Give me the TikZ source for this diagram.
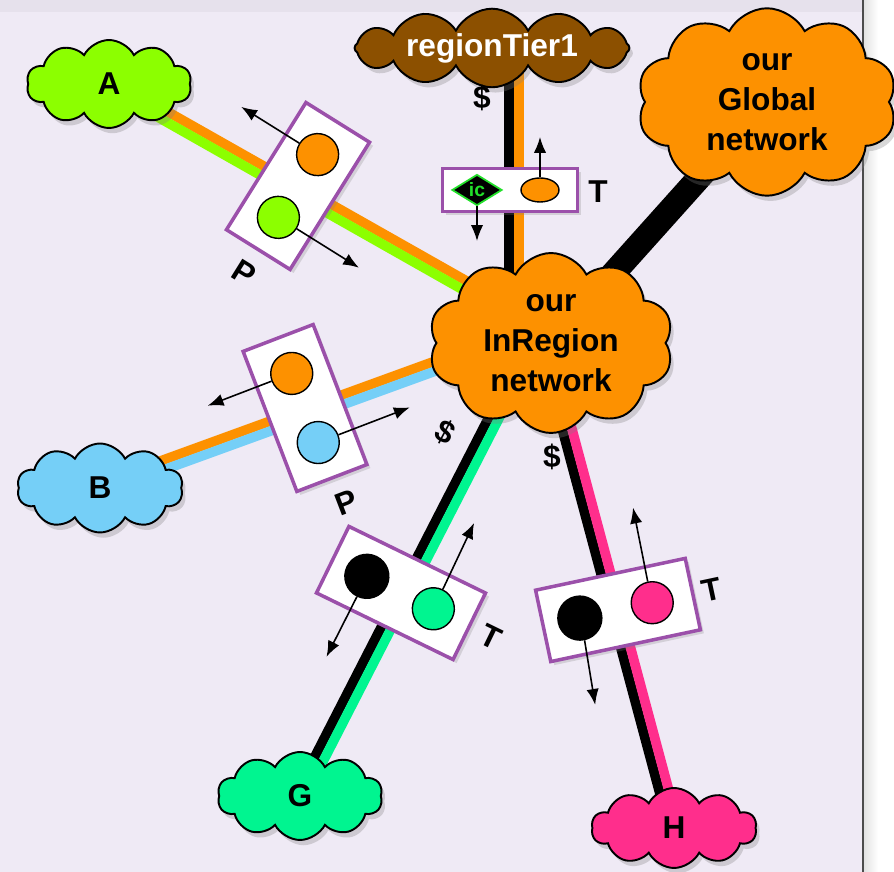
\documentclass[tikz,border=0pt]{standalone}
\usepackage{fontspec}
\setmainfont{Liberation Sans}
\usetikzlibrary{arrows.meta, calc, shapes.symbols, shapes.geometric, shadows}

\definecolor{bgpaper}{HTML}{EFEAF5}
\definecolor{bgband}{HTML}{E6E1EC}
\definecolor{netorange}{HTML}{FD9100}
\definecolor{netbrown}{HTML}{8C5000}
\definecolor{netlime}{HTML}{8CFF00}
\definecolor{netsky}{HTML}{75CFF7}
\definecolor{netmint}{HTML}{00F590}
\definecolor{netpink}{HTML}{FF2E8C}
\definecolor{boxpurple}{HTML}{9B50AA}
\definecolor{icgreen}{HTML}{22E02A}

\newcommand{\netfont}{\fontsize{18}{22.7}\selectfont\bfseries}
\newcommand{\icfont}{\fontsize{11}{12}\selectfont\bfseries}

\pgfdeclarelayer{background}
\pgfdeclarelayer{wires}
\pgfsetlayers{background,wires,main}

\begin{document}
\begin{tikzpicture}[
    x=0.02cm, y=0.02cm,
    thick,
    >={Latex[length=9pt,width=7pt]},
    net/.style={cloud, cloud puffs=10, cloud puff arc=125, cloud ignores aspect,
        draw=black, line width=1.1pt, inner sep=0pt, align=center, font=\netfont,
        drop shadow={shadow xshift=2pt, shadow yshift=-3pt, opacity=0.3}},
    link/.style={line width=5.5pt},
    peer/.style={draw=boxpurple, line width=2pt, fill=white, inner sep=0pt, transform shape,
        drop shadow={shadow xshift=2pt, shadow yshift=-2pt, opacity=0.25}},
    port/.style={circle, draw=black, line width=0.8pt, minimum size=0.84cm, inner sep=0pt, transform shape},
    tag/.style={font=\netfont, transform shape},
    flow/.style={->, line width=0.9pt}
]
\useasboundingbox (0,0) rectangle (894,872);

% clouds
\node[net, fill=netlime, minimum width=3.3cm, minimum height=1.76cm] (a) at (109,788) {A};
\node[net, fill=netbrown, text=white, cloud puffs=12, minimum width=5.5cm, minimum height=1.26cm] (rt) at (492,824) {regionTier1};
\node[net, fill=netorange, minimum width=5.2cm, minimum height=3.75cm] (gl) at (767,770) {our\\Global\\network};
\node[net, fill=netorange, minimum width=4.9cm, minimum height=3.6cm] (ir) at (551,529) {our\\InRegion\\network};
\node[net, fill=netsky, minimum width=3.32cm, minimum height=1.78cm] (b) at (100,384) {B};
\node[net, fill=netmint, minimum width=3.3cm, minimum height=1.76cm] (g) at (300,76) {G};
\node[net, fill=netpink, minimum width=3.3cm, minimum height=1.6cm] (h) at (674,44) {H};

% links
\begin{pgfonlayer}{wires}
\coordinate (hub) at (540,544);
\coordinate (drop) at (514,544);
\coordinate (rtfoot) at (rt.center -| drop);
\foreach \from/\lft/\rgt in {a/netorange/netlime, b/netorange/netsky, g/black/netmint, h/black/netpink}
{
    \draw[link, \lft] ($(\from)!2.7pt!90:(hub)$) -- ($(hub)!2.7pt!-90:(\from)$);
    \draw[link, \rgt] ($(\from)!2.7pt!-90:(hub)$) -- ($(hub)!2.7pt!90:(\from)$);
}
\draw[link, black] ([xshift=-2.7pt]rtfoot) -- ([xshift=-2.7pt]drop);
\draw[link, netorange] ([xshift=2.7pt]rtfoot) -- ([xshift=2.7pt]drop);
\draw[link, black, line width=14pt] (gl.center) -- (ir.center);
\end{pgfonlayer}

% background
\begin{pgfonlayer}{background}
\fill[white] (0,0) rectangle (894,872);
\fill[bgpaper] (0,0) rectangle (863,872);
\fill[bgband] (0,860) rectangle (863,872);
\shade[left color=black!12, right color=white] (863,0) rectangle (878,872);
\draw[black!70, line width=1pt] (863,0) -- (863,872);
\end{pgfonlayer}

% peering with A
\begin{scope}[shift={(298,686)}, rotate=-32]
    \node[peer, minimum width=1.5cm, minimum height=3cm] (pa) at (0,0) {};
    \node[port, fill=netorange] (pa1) at (0,37) {};
    \node[port, fill=netlime] (pa2) at (0,-37) {};
    \draw[flow] (pa1.west) -- (-90,37);
    \draw[flow] (pa2.east) -- (95,-37);
    \node[tag] (pat) at (0,-102) {P};
\end{scope}

% peering with B
\begin{scope}[shift={(305,464)}, rotate=21]
    \node[peer, minimum width=1.5cm, minimum height=3cm] (pb) at (0,0) {};
    \node[port, fill=netorange] (pb1) at (0,37) {};
    \node[port, fill=netsky] (pb2) at (0,-37) {};
    \draw[flow] (pb1.west) -- (-90,37);
    \draw[flow] (pb2.east) -- (98,-37);
    \node[tag] (pbt) at (5,-103) {P};
\end{scope}

% transit from regionTier1
\begin{scope}[shift={(510,682)}]
    \node[peer, minimum width=2.7cm, minimum height=0.86cm] (tic) at (0,0) {};
    \node[diamond, aspect=1.6, fill=black, draw=icgreen, line width=1pt, inner sep=0pt,
        minimum width=1cm, minimum height=0.62cm, text=icgreen, font=\icfont] (ic) at (-33,0) {ic};
    \node[ellipse, draw=black, fill=netorange, line width=0.8pt, inner sep=0pt,
        minimum width=0.76cm, minimum height=0.48cm] (icport) at (30,0) {};
    \draw[flow] (icport.north) -- (30,53);
    \draw[flow] (ic.south) -- (-33,-51);
    \node[tag] (tict) at (88,-2) {T};
\end{scope}

% transit to G
\begin{scope}[shift={(401,279)}, rotate=-26]
    \node[peer, minimum width=3.04cm, minimum height=1.48cm] (tg) at (0,0) {};
    \node[port, fill=black, minimum size=0.88cm] (tg1) at (-38,0) {};
    \node[port, fill=netmint] (tg2) at (36,0) {};
    \draw[flow] (tg1.south) -- (-39,-90);
    \draw[flow] (tg2.north) -- (35,95);
    \node[tag] (tgt) at (100,0) {T};
\end{scope}

% transit to H
\begin{scope}[shift={(618,262)}, rotate=12]
    \node[peer, minimum width=3.06cm, minimum height=1.46cm] (th) at (0,0) {};
    \node[port, fill=black, minimum size=0.88cm] (th1) at (-39,0) {};
    \node[port, fill=netpink] (th2) at (35,0) {};
    \draw[flow] (th1.south) -- (-42,-88);
    \draw[flow] (th2.north) -- (36,97);
    \node[tag] (tht) at (96,0) {T};
\end{scope}

% paid links
\node[tag] (usd1) at (482,774) {\$};
\node[tag, rotate=-28] (usd2) at (445,440) {\$};
\node[tag] (usd3) at (552,415) {\$};

\end{tikzpicture}
\end{document}
